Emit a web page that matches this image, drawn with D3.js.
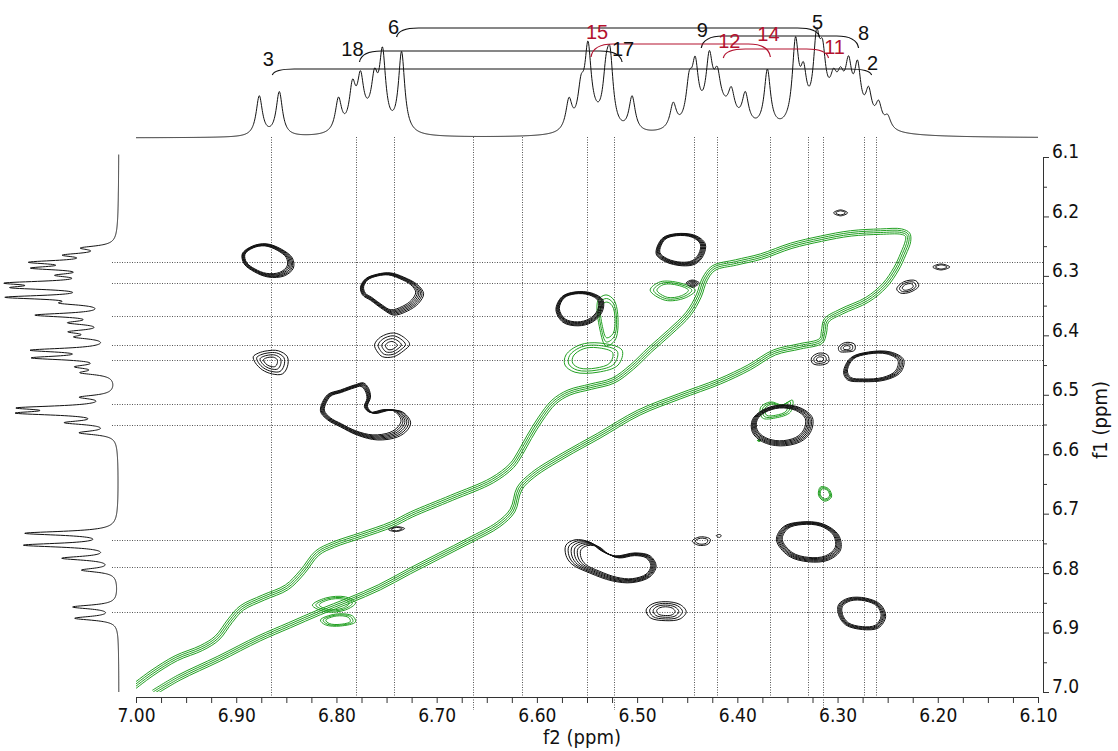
<!DOCTYPE html>
<html><head><meta charset="utf-8">
<script src="https://cdn.jsdelivr.net/npm/d3@7/dist/d3.min.js"></script>
<style>
html,body{margin:0;padding:0;background:#fff;}
svg{display:block;}
</style></head><body>
<svg id="chart" width="1118" height="751"></svg>
<script>
// ---------------- DATA ----------------
const f2TickLabels = ["7.00","6.90","6.80","6.70","6.60","6.50","6.40","6.30","6.20","6.10"];
const f1TickLabels = ["6.1","6.2","6.3","6.4","6.5","6.6","6.7","6.8","6.9","7.0"];

// top 1D projection: [ppm, intensity, half-width ppm]
const topPeaks = [[6.877,40,0.0038],[6.857,44,0.0038],
 [6.768,12,0.014],
 [6.798,33,0.0038],[6.784,40,0.0038],[6.776,44,0.0038],[6.762,40,0.0038],[6.754,72,0.0038],[6.735,80,0.0038],
 [6.545,12,0.012],
 [6.568,30,0.0038],[6.556,34,0.0038],[6.549,72,0.0038],[6.531,42,0.0038],[6.527,62,0.0038],[6.505,35,0.0038],
 [6.420,25,0.02],
 [6.464,25,0.0038],[6.448,38,0.0038],[6.442,52,0.0038],[6.428,52,0.0038],[6.420,30,0.0038],[6.406,25,0.0038],[6.392,30,0.0038],[6.370,58,0.0038],
 [6.300,28,0.022],
 [6.342,80,0.0038],[6.334,42,0.0038],[6.321,70,0.0038],[6.315,50,0.0038],[6.304,22,0.0038],[6.297,22,0.0038],[6.289,42,0.0038],[6.280,48,0.0038],[6.269,30,0.0038],[6.259,22,0.0038],[6.250,12,0.0038]];
// left 1D projection: [ppm, intensity, half-width ppm]
const sidePeaks = [[6.253,30,0.004],[6.265,42,0.004],[6.277,72,0.004],[6.287,68,0.004],[6.299,42,0.004],[6.312,88,0.004],[6.320,80,0.004],[6.336,98,0.004],[6.346,38,0.004],
 [6.366,74,0.004],[6.379,38,0.004],[6.394,38,0.004],[6.403,32,0.004],[6.425,78,0.004],[6.438,76,0.004],[6.453,32,0.004],[6.463,30,0.004],[6.504,32,0.004],[6.522,85,0.004],[6.531,85,0.004],
 [6.547,45,0.004],[6.564,35,0.004],[6.733,90,0.004],[6.753,90,0.004],[6.775,52,0.004],[6.795,34,0.004],[6.857,44,0.004],[6.876,42,0.004]];

// guide lines (ppm)
const vLines = [6.865,6.780,6.743,6.664,6.615,6.550,6.523,6.443,6.420,6.367,6.329,6.315,6.274,6.262];
const vLinesLong = [6.664,6.523,6.315];
const hLines = [6.277,6.312,6.367,6.416,6.442,6.516,6.551,6.744,6.790,6.865];

// assignment labels
const peakLabels = ["3","18","6","15","17","9","12","14","5","8","11","2"];
const peakLabelPos = [6.868,6.784,6.743,6.540,6.514,6.435,6.408,6.369,6.320,6.274,6.303,6.265];
const peakLabelRed = [false,false,false,true,false,false,true,true,false,false,true,false];
const bracketFrom = [6.864,6.777,6.740,6.436,6.546,6.414];
const bracketTo   = [6.266,6.515,6.318,6.279,6.367,6.309];
const bracketRed  = [false,false,false,false,true,true];

// black (negative) cross-peak contours, outer outline [f2, f1]
const blackContours = [
 [[6.894,6.263],[6.884,6.250],[6.870,6.246],[6.855,6.255],[6.844,6.270],[6.843,6.287],[6.852,6.300],[6.868,6.302],[6.882,6.293],[6.892,6.280]],
 [[6.776,6.319],[6.771,6.305],[6.759,6.297],[6.746,6.295],[6.733,6.302],[6.719,6.315],[6.713,6.330],[6.718,6.346],[6.729,6.359],[6.743,6.366],[6.753,6.357],[6.766,6.341],[6.774,6.332]],
 [[6.762,6.416],[6.756,6.403],[6.743,6.396],[6.733,6.403],[6.727,6.415],[6.733,6.426],[6.743,6.436],[6.754,6.436],[6.759,6.428]],
 [[6.883,6.436],[6.878,6.430],[6.869,6.426],[6.858,6.426],[6.849,6.436],[6.849,6.453],[6.854,6.465],[6.864,6.465],[6.874,6.458],[6.881,6.446]],
 [[6.816,6.527],[6.809,6.500],[6.796,6.492],[6.781,6.483],[6.773,6.480],[6.768,6.489],[6.766,6.504],[6.769,6.520],[6.763,6.531],[6.746,6.526],[6.734,6.529],[6.726,6.546],[6.729,6.559],[6.739,6.571],[6.759,6.576],[6.779,6.568],[6.796,6.554],[6.809,6.542]],
 [[6.581,6.357],[6.575,6.335],[6.562,6.327],[6.545,6.329],[6.534,6.341],[6.535,6.361],[6.545,6.378],[6.559,6.384],[6.574,6.378]],
 [[6.481,6.263],[6.475,6.237],[6.461,6.229],[6.442,6.232],[6.432,6.246],[6.434,6.266],[6.442,6.280],[6.455,6.283],[6.472,6.276]],
 [[6.294,6.462],[6.287,6.438],[6.269,6.428],[6.247,6.428],[6.234,6.441],[6.237,6.462],[6.252,6.475],[6.275,6.478],[6.290,6.475]],
 [[6.385,6.542],[6.375,6.526],[6.357,6.517],[6.337,6.522],[6.325,6.539],[6.327,6.563],[6.337,6.579],[6.357,6.586],[6.375,6.579],[6.385,6.563]],
 [[6.361,6.744],[6.354,6.722],[6.337,6.714],[6.315,6.717],[6.299,6.736],[6.297,6.761],[6.309,6.778],[6.329,6.781],[6.349,6.771]],
 [[6.299,6.853],[6.289,6.842],[6.272,6.842],[6.257,6.853],[6.252,6.873],[6.259,6.892],[6.275,6.895],[6.292,6.887],[6.299,6.870]],
 [[6.571,6.753],[6.562,6.744],[6.547,6.748],[6.537,6.761],[6.522,6.771],[6.502,6.766],[6.487,6.771],[6.481,6.788],[6.487,6.806],[6.505,6.816],[6.525,6.813],[6.547,6.800],[6.565,6.785],[6.571,6.770]],
 [[6.491,6.862],[6.485,6.852],[6.472,6.848],[6.457,6.853],[6.451,6.865],[6.457,6.877],[6.472,6.880],[6.487,6.875]],
 [[6.304,6.194],[6.297,6.189],[6.290,6.194],[6.297,6.199]],
 [[6.205,6.285],[6.197,6.280],[6.188,6.285],[6.197,6.290]],
 [[6.241,6.322],[6.234,6.310],[6.222,6.308],[6.219,6.317],[6.227,6.327],[6.237,6.329]],
 [[6.326,6.438],[6.319,6.430],[6.310,6.433],[6.309,6.445],[6.317,6.450],[6.325,6.447]],
 [[6.299,6.420],[6.292,6.412],[6.283,6.415],[6.283,6.425],[6.291,6.428],[6.298,6.427]],
 [[6.445,6.746],[6.437,6.739],[6.427,6.743],[6.429,6.751],[6.439,6.753]],
 [[6.421,6.737],[6.418,6.735],[6.416,6.737],[6.418,6.740]],
 [[6.748,6.727],[6.740,6.722],[6.732,6.725],[6.740,6.730]],
 [[6.451,6.312],[6.445,6.307],[6.438,6.312],[6.445,6.319]]
];

// green (positive) diagonal ridge outline [f2, f1]
const greenRidge = [[7.008,6.993],[6.986,6.965],[6.961,6.939],[6.936,6.922],[6.921,6.906],[6.908,6.877],[6.896,6.855],[6.874,6.837],
 [6.851,6.820],[6.836,6.795],[6.821,6.763],[6.804,6.748],[6.776,6.732],[6.746,6.714],[6.726,6.697],[6.686,6.669],[6.646,6.640],
 [6.627,6.616],[6.619,6.596],[6.610,6.569],[6.599,6.539],[6.585,6.509],[6.569,6.492],[6.547,6.482],[6.525,6.472],[6.507,6.450],
 [6.489,6.421],[6.469,6.391],[6.451,6.361],[6.441,6.332],[6.435,6.304],[6.425,6.283],[6.402,6.273],[6.377,6.263],[6.347,6.245],
 [6.317,6.233],[6.287,6.224],[6.257,6.221],[6.236,6.221],[6.228,6.228],[6.227,6.242],[6.232,6.265],[6.239,6.290],[6.251,6.319],
 [6.269,6.344],[6.295,6.364],[6.309,6.378],[6.311,6.396],[6.315,6.413],[6.337,6.423],[6.362,6.433],[6.387,6.458],[6.417,6.482],
 [6.457,6.507],[6.497,6.534],[6.537,6.573],[6.572,6.606],[6.602,6.638],[6.615,6.660],[6.622,6.697],[6.637,6.722],[6.666,6.749],
 [6.696,6.775],[6.726,6.801],[6.756,6.828],[6.786,6.850],[6.816,6.870],[6.846,6.892],[6.876,6.914],[6.916,6.948],[6.956,6.980],[6.981,7.005]];
// green (positive) cross-peak contours
const greenContours = [
 [[6.539,6.341],[6.531,6.332],[6.523,6.341],[6.519,6.374],[6.522,6.408],[6.531,6.418],[6.537,6.391]],
 [[6.571,6.433],[6.557,6.416],[6.537,6.413],[6.515,6.425],[6.519,6.450],[6.539,6.462],[6.562,6.462],[6.572,6.450]],
 [[6.487,6.324],[6.477,6.310],[6.457,6.312],[6.442,6.324],[6.452,6.337],[6.472,6.341]],
 [[6.377,6.522],[6.367,6.512],[6.355,6.517],[6.345,6.509],[6.347,6.529],[6.362,6.539],[6.375,6.539]],
 [[6.319,6.669],[6.317,6.655],[6.309,6.658],[6.306,6.672],[6.313,6.679]],
 [[6.824,6.854],[6.811,6.842],[6.791,6.840],[6.781,6.850],[6.791,6.862],[6.811,6.865]],
 [[6.816,6.879],[6.801,6.869],[6.784,6.872],[6.781,6.882],[6.796,6.889],[6.811,6.887]],
 [[6.380,6.577],[6.378,6.575],[6.377,6.578]]
];

// ---------------- RENDER ----------------
const FONT = '"DejaVu Sans Condensed","DejaVu Sans",sans-serif';
const LFONT = '"Liberation Sans",Arial,sans-serif';
const svg = d3.select('#chart');
svg.append('rect').attr('width',1118).attr('height',751).attr('fill','#fff');

const x = d3.scaleLinear().domain([7.0, 6.1]).range([136, 1038]);
const y = d3.scaleLinear().domain([6.1, 7.0]).range([157, 692]);
const topI = d3.scaleLinear().domain([0, 100]).range([138, 38]);
const sideI = d3.scaleLinear().domain([0, 100]).range([119, 19]);
const lor = (peaks, p) => d3.sum(peaks, d => d[1] / (1 + ((p - d[0]) / d[2]) ** 2));
const grid = d3.range(0, 2251).map(i => 7.0 - i * 0.0004);

// dotted guides
const gDot = svg.append('g').attr('stroke','#555').attr('stroke-width',1).attr('stroke-dasharray','1,1.5').attr('fill','none');
gDot.selectAll('line.v').data(vLines).join('line').attr('class','v')
  .attr('x1',d=>Math.round(x(d))+0.5).attr('x2',d=>Math.round(x(d))+0.5)
  .attr('y1',137).attr('y2',d=>vLinesLong.includes(d)?710:697);
gDot.selectAll('line.h').data(hLines).join('line').attr('class','h')
  .attr('y1',d=>Math.round(y(d))+0.5).attr('y2',d=>Math.round(y(d))+0.5)
  .attr('x1',112).attr('x2',1044);

// clip for 2D area
svg.append('clipPath').attr('id','plotclip').append('rect')
  .attr('x',136).attr('y',150).attr('width',902).attr('height',542);
const gC = svg.append('g').attr('clip-path','url(#plotclip)').attr('fill','none');

const closedGen = d3.line().x(d=>d[0]).y(d=>d[1]).curve(d3.curveCatmullRomClosed.alpha(0.5));
const openGen = d3.line().x(d=>d[0]).y(d=>d[1]).curve(d3.curveCatmullRom.alpha(0.5));

// style per black contour: [levels, gap, anchor shift x, anchor shift y]
const blackStyle = [[6,0.035,-10,-5],[6,0.035,-12,-8],[4,0.22,0,0],[4,0.2,0,0],[6,0.03,-20,-5],[6,0.035,-5,-5],
 [6,0.035,-5,-5],[5,0.04,-5,-3],[6,0.04,-5,-5],[6,0.035,0,-5],[5,0.045,0,0],[6,0.045,25,5],[4,0.18,0,0],
 [2,0.3,0,0],[2,0.3,0,0],[3,0.25,0,0],[3,0.3,0,0],[3,0.3,0,0],[2,0.3,0,0],[1,0,0,0],[2,0.3,0,0],[4,0.25,0,0]];

function drawNested(g, pts, st, color){
  const px = pts.map(p => [x(p[0]), y(p[1])]);
  const cx = d3.mean(px, p=>p[0]) + st[2], cy = d3.mean(px, p=>p[1]) + st[3];
  for (let k=0;k<st[0];k++){
    const f = 1 - k*st[1];
    g.append('path').attr('d', closedGen(px.map(p=>[cx+(p[0]-cx)*f, cy+(p[1]-cy)*f])))
      .attr('stroke', color).attr('stroke-width', 1);
  }
}

// green ridge with inward offsets
(function(){
  const px = greenRidge.map(p => [x(p[0]), y(p[1])]);
  const n = px.length;
  const normals = px.map((p,i) => {
    const a = px[Math.max(0,i-1)], b = px[Math.min(n-1,i+1)];
    const dx = b[0]-a[0], dy = b[1]-a[1], L = Math.hypot(dx,dy)||1;
    return [-dy/L, dx/L];
  });
  for (let k=0;k<4;k++){
    const off = px.map((p,i)=>[p[0]+normals[i][0]*k*1.8, p[1]+normals[i][1]*k*1.8]);
    gC.append('path').attr('d', openGen(off)).attr('stroke','#22a022').attr('stroke-width',1);
  }
})();
greenContours.forEach(pts => drawNested(gC, pts, [3,0.15,0,0], '#22a022'));
blackContours.forEach((pts,i) => drawNested(gC, pts, blackStyle[i], '#111'));

// top projection
svg.append('path').datum(grid)
  .attr('d', d3.line().x(p=>x(p)).y(p=>topI(lor(topPeaks,p))))
  .attr('fill','none').attr('stroke','#111').attr('stroke-width',1);
// side projection
const sgrid = d3.range(0, 2261).map(i => 6.096 + i * 0.0004);
svg.append('path').datum(sgrid)
  .attr('d', d3.line().x(p=>sideI(lor(sidePeaks,p))).y(p=>y(p)))
  .attr('fill','none').attr('stroke','#111').attr('stroke-width',1);

// x axis
const f2Major = f2TickLabels.map(Number);
const f2All = d3.range(0, 37).map(i => +(7.0 - i*0.025).toFixed(3));
const gx = svg.append('g').attr('transform','translate(0,697)')
  .call(d3.axisBottom(x).tickValues(f2All).tickSize(6).tickSizeOuter(0).tickPadding(6)
    .tickFormat(d => { const j = f2Major.findIndex(v=>Math.abs(v-d)<1e-6); return j>=0 ? f2TickLabels[j] : ''; }));
gx.selectAll('path,line').attr('stroke','#333');
gx.selectAll('text').attr('font-family',FONT).attr('font-size',19).attr('fill','#111');

// y axis
const f1Major = f1TickLabels.map(Number);
const f1All = d3.range(0, 19).map(i => +(6.1 + i*0.05).toFixed(3));
const gy = svg.append('g').attr('transform','translate(1043,0)')
  .call(d3.axisRight(y).tickValues(f1All).tickSize(6).tickSizeOuter(0).tickPadding(3)
    .tickFormat(d => { const j = f1Major.findIndex(v=>Math.abs(v-d)<1e-6); return j>=0 ? f1TickLabels[j] : ''; }));
gy.selectAll('path,line').attr('stroke','#333');
gy.selectAll('.tick').filter(d => f1Major.findIndex(v=>Math.abs(v-d)<1e-6) < 0).select('line').attr('x2',4);
gy.selectAll('text').attr('font-family',FONT).attr('font-size',19).attr('fill','#111').attr('dy','0.05em');

// axis titles
svg.append('text').attr('x',582).attr('y',744).attr('text-anchor','middle')
  .attr('font-family',FONT).attr('font-size',20).attr('fill','#111').text('f2 (ppm)');
svg.append('text').attr('transform','translate(1107,420) rotate(-90)').attr('text-anchor','middle')
  .attr('font-family',FONT).attr('font-size',20).attr('fill','#111').text('f1 (ppm)');

// brackets
const bracketY = [[69,75],[51,62],[28,37],[36,48],[44,57],[49,58]];
const RED = '#b3122f';
bracketFrom.forEach((f,i) => {
  const x1 = x(f), x2 = x(bracketTo[i]);
  const [yt, ye] = bracketY[i];
  const r = 22;
  const d = `M${x1},${ye} Q${x1+2},${yt} ${x1+r},${yt} L${x2-r},${yt} Q${x2-2},${yt} ${x2},${ye}`;
  svg.append('path').attr('d',d).attr('fill','none').attr('stroke', bracketRed[i]?RED:'#111').attr('stroke-width',1.2);
});
// labels
const labelY = [59,49,27,32,49,30,41,34,22,33,47,63];
svg.selectAll('text.pl').data(peakLabels).join('text').attr('class','pl')
  .attr('x',(d,i)=>x(peakLabelPos[i])).attr('y',(d,i)=>labelY[i]+7)
  .attr('text-anchor','middle').attr('font-family',LFONT).attr('font-size',20)
  .attr('fill',(d,i)=>peakLabelRed[i]?RED:'#111').text(d=>d);
</script>
</body></html>
